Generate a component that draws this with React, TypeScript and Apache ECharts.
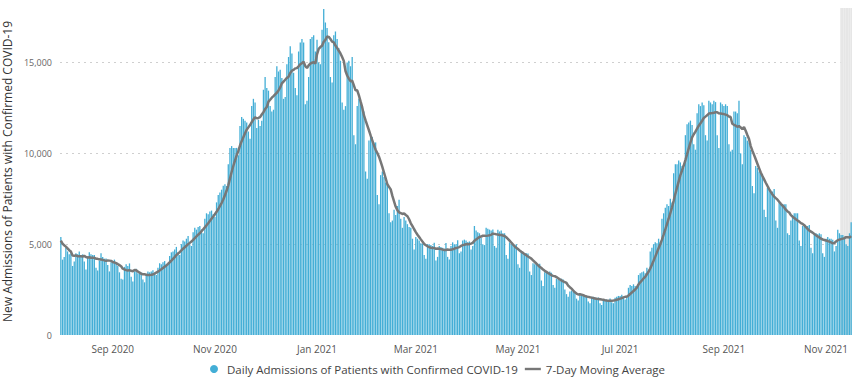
import React, { useEffect, useRef } from 'react';
import * as echarts from 'echarts';

const startDate = '2020-08-01';
// Jul 26 - Jul 31, 2020 (before the visible range, used for the moving average)
const priorDays = [5300, 5000, 5300, 5250, 5150, 5000];
// Daily admissions from Aug 1, 2020, one row per week (Sat..Fri)
const dailyAdmissions = [
  5400, 4150, 4300, 4800, 4600, 4450, 4500,
  3800, 4050, 4500, 4450, 4600, 4400, 4440,
  4050, 3600, 4300, 4550, 4450, 4400, 4400,
  3700, 3550, 4100, 4500, 4300, 4200, 4210,
  3850, 3500, 4000, 4050, 4150, 3950, 3800,
  3450, 3100, 3050, 3750, 3900, 3800, 3940,
  3200, 2950, 3500, 3650, 3400, 3450, 3440,
  3050, 2900, 3350, 3500, 3450, 3500, 3560,
  3400, 3300, 3700, 3950, 3900, 4000, 4070,
  3900, 3850, 4350, 4550, 4600, 4700, 4850,
  4500, 4400, 5000, 5200, 5150, 5300, 5450,
  5000, 4900, 5650, 5900, 5800, 5950, 6000,
  5800, 5600, 6400, 6700, 6650, 6800, 6850,
  6650, 6500, 7300, 7700, 7850, 8000, 8220,
  8300, 8200, 9400, 10300, 10400, 10300, 10300,
  10300, 9900, 11500, 12000, 11900, 11800, 11700,
  11200, 10800, 12600, 13000, 12800, 11400, 11850,
  11500, 11800, 13500, 14200, 13600, 13450, 12600,
  12300, 12400, 14200, 14800, 14500, 14600, 14150,
  13000, 13100, 14900, 15300, 15900, 15500, 14430,
  13600, 13200, 15600, 16100, 16300, 16100, 12700,
  12900, 14200, 16300, 16400, 16500, 15600, 16250,
  15000, 14900, 16800, 17950, 17200, 16900, 16120,
  14200, 13900, 16500, 16700, 16300, 15800, 15100,
  12800, 12400, 12600, 15000, 15100, 14800, 15300,
  11000, 10500, 12600, 13000, 12800, 12500, 12300,
  9000, 8600, 10700, 11000, 10900, 10600, 10600,
  7700, 7200, 8800, 9000, 8700, 8400, 8300,
  6700, 6200, 6300, 6900, 6600, 7100, 7450,
  6400, 5900, 6500, 6300, 6100, 5950, 5900,
  5300, 4700, 5400, 5300, 5200, 5050, 5030,
  4400, 4200, 5000, 5000, 4950, 4900, 5080,
  4100, 4300, 4900, 4850, 4800, 4750, 5060,
  4300, 4150, 4900, 5100, 5000, 5000, 5220,
  4500, 4600, 5200, 5250, 5200, 5100, 5150,
  4700, 4900, 6000, 5750, 5650, 5600, 5340,
  5000, 4950, 5900, 5850, 5800, 5750, 5810,
  4900, 4800, 5800, 5700, 5750, 5600, 5600,
  4400, 4200, 5100, 5000, 5000, 4900, 5000,
  3900, 3700, 4600, 4550, 4500, 4500, 4490,
  3500, 3300, 3950, 3900, 3900, 3850, 3920,
  3000, 2700, 3450, 3500, 3450, 3500, 3430,
  2750, 2600, 3100, 3050, 3000, 3100, 3050,
  2500, 2250, 2100, 2400, 2450, 2400, 2350,
  2000, 1900, 2200, 2250, 2200, 2150, 2140,
  1850, 1750, 2050, 2100, 2050, 2000, 2060,
  1750, 1650, 1950, 1950, 1950, 1900, 2010,
  1800, 1750, 2050, 2100, 2150, 2150, 2210,
  2100, 1950, 2050, 2600, 2750, 2700, 2790,
  2700, 2650, 3300, 3400, 3450, 3500, 3400,
  3700, 3600, 4600, 4800, 5000, 5100, 5050,
  5300, 5100, 6400, 6700, 7000, 7200, 7100,
  7500, 7300, 8900, 9400, 9400, 9600, 9500,
  9300, 9200, 11000, 11600, 11700, 11800, 11560,
  10500, 10200, 12200, 12700, 12600, 12800, 12650,
  11000, 10700, 12900, 12800, 12700, 12900, 12820,
  11000, 10300, 12800, 12700, 12600, 12700, 12600,
  10500, 10100, 10200, 12300, 12300, 12200, 12900,
  10000, 9400, 11000, 10900, 10700, 10600, 10200,
  8200, 7800, 9300, 9200, 9000, 8900, 8850,
  6900, 6500, 8100, 8000, 7900, 7900, 8040,
  6300, 5900, 7300, 7200, 7200, 7200, 7200,
  5600, 5500, 6300, 6600, 6700, 6700, 6700,
  5200, 4900, 6000, 6100, 6000, 6000, 6050,
  4800, 4500, 5500, 5600, 5550, 5600, 5550,
  4500, 4300, 5300, 5400, 5300, 5300, 5250,
  4600, 4900, 5800, 5600, 5500, 5500, 5410,
  5000, 4900, 5600, 6200,
];
const yTicks = [0, 5000, 10000, 15000];
const yMax = 18000;
// shaded (incomplete data) period
const shadedFrom = '2021-11-10';
const shadedTo = '2021-11-16';
const barName = 'Daily Admissions of Patients with Confirmed COVID-19';
const lineName = '7-Day Moving Average';
const yTitle = 'New Admissions of Patients with Confirmed COVID-19';
const monthNames = ['Jan', 'Feb', 'Mar', 'Apr', 'May', 'Jun', 'Jul', 'Aug', 'Sep', 'Oct', 'Nov', 'Dec'];

function buildDates(start: string, n: number): string[] {
  const out: string[] = [];
  const d0 = new Date(start + 'T00:00:00Z');
  for (let i = 0; i < n; i++) {
    const d = new Date(d0.getTime() + i * 86400000);
    out.push(d.toISOString().slice(0, 10));
  }
  return out;
}

function movingAverage(prior: number[], vals: number[]): number[] {
  const all = [...prior, ...vals];
  const off = prior.length;
  return vals.map((_, i) => {
    const idx = i + off;
    const from = Math.max(0, idx - 6);
    const win = all.slice(from, idx + 1);
    return Math.round(win.reduce((a, b) => a + b, 0) / win.length);
  });
}

export default function App() {
  const ref = useRef<HTMLDivElement>(null);
  useEffect(() => {
    if (!ref.current) return;
    const chart = echarts.init(ref.current, null, { renderer: 'svg' });
    const dates = buildDates(startDate, dailyAdmissions.length);
    const ma = movingAverage(priorDays, dailyAdmissions);
    const shade = dates.map((d) => (d >= shadedFrom && d <= shadedTo ? yMax : null));
    const font = '"Open Sans", "Noto Sans", sans-serif';
    const showLabel = (v: string) => {
      const m = parseInt(v.slice(5, 7), 10);
      return v.slice(8, 10) === '01' && m % 2 === 1;
    };
    chart.setOption({
      animation: false,
      textStyle: { fontFamily: font },
      grid: { left: 60, right: 2, top: 8, bottom: 46, containLabel: false, outerBoundsMode: 'none' },
      legend: {
        bottom: 1,
        left: 205,
        itemWidth: 16,
        itemHeight: 8,
        itemGap: 7,
        textStyle: { fontSize: 11.5, color: '#444', fontFamily: font },
        data: [
          { name: barName, icon: 'circle' },
          { name: lineName, icon: 'path://M0,0 H16 V2.4 H0 Z' },
        ],
      },
      xAxis: [
        {
          type: 'category',
          data: dates,
          boundaryGap: true,
          axisTick: { show: false },
          axisLine: { show: false },
          axisLabel: {
            interval: (_i: number, v: string) => showLabel(v),
            formatter: (v: string) => {
              const m = parseInt(v.slice(5, 7), 10);
              return monthNames[m - 1] + ' ' + v.slice(0, 4);
            },
            fontSize: 10,
            color: '#555',
            margin: 9,
            fontFamily: font,
          },
        },
        {
          type: 'category',
          data: dates,
          boundaryGap: true,
          show: false,
        },
      ],
      yAxis: {
        type: 'value',
        min: yTicks[0],
        max: yMax,
        interval: yTicks[1] - yTicks[0],
        name: yTitle,
        nameLocation: 'middle',
        nameGap: 42,
        nameTextStyle: { fontSize: 12, color: '#333', fontFamily: font },
        axisLine: { show: false },
        axisTick: { show: false },
        axisLabel: {
          showMaxLabel: false,
          fontSize: 9,
          color: '#666',
          margin: 8,
          fontFamily: font,
          formatter: (v: number) => v.toLocaleString('en-US'),
        },
        splitLine: {
          show: true,
          showMinLine: false,
          showMaxLine: false,
          lineStyle: { type: [2, 4], color: '#cfcfcf', width: 1 },
        },
      },
      series: [
        {
          name: 'shade',
          type: 'bar',
          xAxisIndex: 1,
          data: shade,
          barCategoryGap: '0%',
          barWidth: '100%',
          itemStyle: { color: '#e6e6e6' },
          silent: true,
          z: 1,
        },
        {
          name: barName,
          type: 'bar',
          xAxisIndex: 0,
          data: dailyAdmissions,
          barCategoryGap: '22%',
          itemStyle: { color: '#43aed6' },
          z: 3,
        },
        {
          name: lineName,
          type: 'line',
          xAxisIndex: 0,
          data: ma,
          symbol: 'none',
          lineStyle: { color: '#777777', width: 2.5 },
          itemStyle: { color: '#777777' },
          z: 5,
        },
      ],
    });
    return () => chart.dispose();
  }, []);
  return (
    <div
      ref={ref}
      style={{ position: 'fixed', left: 0, top: 0, width: 854, height: 381, background: '#fff' }}
    />
  );
}
